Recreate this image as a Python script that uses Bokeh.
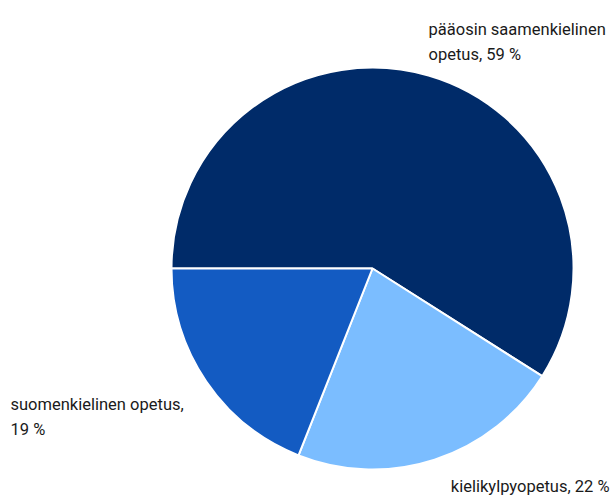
import math
from bokeh.plotting import figure
from bokeh.models import Range1d, ColumnDataSource
from bokeh.core.properties import value
from bokeh.embed import file_html
from bokeh.resources import INLINE

categories = ["pääosin saamenkielinen opetus", "kielikylpyopetus", "suomenkielinen opetus"]
shares = [59, 22, 19]
colors = ["#002b69", "#7bbdff", "#135bc2"]
label_lines = [
    ["pääosin saamenkielinen", "opetus, 59 %"],
    ["kielikylpyopetus, 22 %"],
    ["suomenkielinen opetus,", "19 %"],
]

W, H = 612, 497
p = figure(width=W, height=H, output_backend="svg", toolbar_location=None,
           x_range=Range1d(0, W), y_range=Range1d(-H, 0),
           min_border=0)
p.axis.visible = False
p.grid.visible = False
p.outline_line_color = None
p.background_fill_color = "white"

total = sum(shares)
starts, ends = [], []
a = math.pi
for s in shares:
    starts.append(a)
    a -= s / total * 2 * math.pi
    ends.append(a)

src = ColumnDataSource(dict(start=starts, end=ends, color=colors, cat=categories))
p.wedge(x=372, y=-268, radius=201, start_angle="start", end_angle="end",
        direction="clock", fill_color="color", line_color="white", line_width=2,
        source=src)

label_x = [428, 609, 10]
label_align = ["left", "right", "left"]
label_y0 = [29, 486, 404]
line_gap = 25
tx, ty, tt, ta = [], [], [], []
for lines, x0, y0, al in zip(label_lines, label_x, label_y0, label_align):
    for i, t in enumerate(lines):
        tx.append(x0)
        ty.append(-(y0 + i * line_gap))
        tt.append(t)
        ta.append(al)

tsrc = ColumnDataSource(dict(x=tx, y=ty, text=tt, align=ta))
p.text(x="x", y="y", text="text", text_align="align", source=tsrc,
       text_font=value("Roboto"), text_font_size="16.5px", text_color="#1a1a1a",
       text_baseline="alphabetic")

open("out.html", "w").write(file_html(p, INLINE))
